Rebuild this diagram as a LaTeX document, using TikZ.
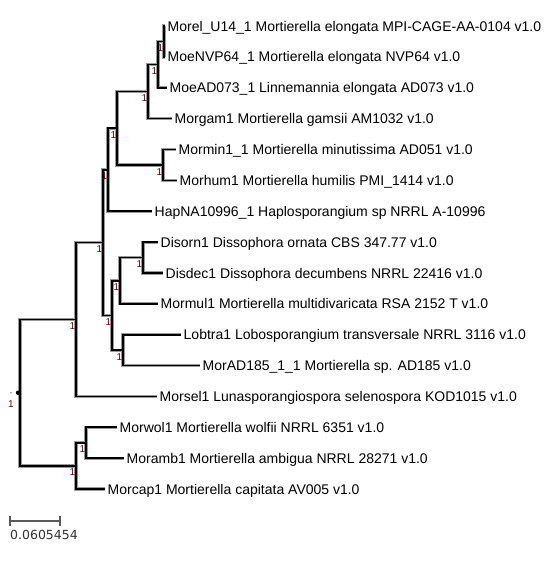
\documentclass[tikz,border=0pt]{standalone}
\usepackage{fontspec}
\setmainfont{Liberation Sans}
\newfontfamily\scalefont{DejaVu Sans}
\definecolor{bsred}{RGB}{128,0,0}
\begin{document}
\begin{tikzpicture}[x=1pt,y=-1pt,
  halo/.style={draw=black!40, line width=3.2pt},
  edge/.style={draw=black, line width=1.7pt},
  leaf/.style={anchor=base west, inner sep=0pt, xshift=2.5pt, yshift=-5pt, font=\fontsize{14}{16}\selectfont},
  bs/.style={anchor=north east, inner sep=0pt, text=bsred, xshift=-0.5pt, yshift=-3pt, font=\fontsize{10}{12}\selectfont},
  scalebar/.style={draw=black!65, line width=1.6pt}]
\useasboundingbox (0,0) rectangle (555,566);
\fill[white] (0,0) rectangle (555,566);
% leaf tips
\coordinate (L0) at (165,26);
\coordinate (L1) at (165,56.9);
\coordinate (L2) at (167,87.7);
\coordinate (L3) at (172,118.6);
\coordinate (L4) at (176,149.5);
\coordinate (L5) at (177,180.4);
\coordinate (L6) at (152,211.2);
\coordinate (L7) at (158,242.1);
\coordinate (L8) at (163,273);
\coordinate (L9) at (158,303.8);
\coordinate (L10) at (181,334.7);
\coordinate (L11) at (200,365.6);
\coordinate (L12) at (157,396.4);
\coordinate (L13) at (117,427.3);
\coordinate (L14) at (124,458.1);
\coordinate (L15) at (105,489);
% internal nodes
\coordinate (N1) at (164,41.4);
\coordinate (N2) at (158,64.6);
\coordinate (N3) at (148,91.6);
\coordinate (N5) at (163,165);
\coordinate (N4) at (117,128.3);
\coordinate (N6) at (108,169.8);
\coordinate (N10) at (143,257.5);
\coordinate (N9) at (120,280.7);
\coordinate (N11) at (123,350.1);
\coordinate (N8) at (112,315.4);
\coordinate (N7) at (103,242.6);
\coordinate (Nin) at (76,319.5);
\coordinate (N13) at (86,442.7);
\coordinate (N12) at (76,465.9);
\coordinate (R) at (20,392.7);
% branches
\foreach \a/\b in {R/Nin,R/N12,Nin/N7,Nin/L12,N7/N6,N7/N8,N6/N4,N6/L6,N4/N3,N4/N5,N3/N2,N3/L3,N2/N1,N2/L2,N1/L0,N1/L1,N5/L4,N5/L5,N8/N9,N8/N11,N9/N10,N9/L9,N10/L7,N10/L8,N11/L10,N11/L11,N12/N13,N12/L15,N13/L13,N13/L14}
  \draw[halo] (\a) |- (\b);
\foreach \a/\b in {R/Nin,R/N12,Nin/N7,Nin/L12,N7/N6,N7/N8,N6/N4,N6/L6,N4/N3,N4/N5,N3/N2,N3/L3,N2/N1,N2/L2,N1/L0,N1/L1,N5/L4,N5/L5,N8/N9,N8/N11,N9/N10,N9/L9,N10/L7,N10/L8,N11/L10,N11/L11,N12/N13,N12/L15,N13/L13,N13/L14}
  \draw[edge] (\a) |- (\b);
% root marks
\fill[black] (18,392.7) circle (2.2);
\fill[black!45] (11,392.7) circle (0.9);
% leaf labels
\node[leaf] (t0) at (L0) {Morel\_U14\_1 Mortierella elongata MPI-CAGE-AA-0104 v1.0};
\node[leaf] (t1) at (L1) {MoeNVP64\_1 Mortierella elongata NVP64 v1.0};
\node[leaf] (t2) at (L2) {MoeAD073\_1 Linnemannia elongata AD073 v1.0};
\node[leaf] (t3) at (L3) {Morgam1 Mortierella gamsii AM1032 v1.0};
\node[leaf] (t4) at (L4) {Mormin1\_1 Mortierella minutissima AD051 v1.0};
\node[leaf] (t5) at (L5) {Morhum1 Mortierella humilis PMI\_1414 v1.0};
\node[leaf] (t6) at (L6) {HapNA10996\_1 Haplosporangium sp NRRL A-10996};
\node[leaf] (t7) at (L7) {Disorn1 Dissophora ornata CBS 347.77 v1.0};
\node[leaf] (t8) at (L8) {Disdec1 Dissophora decumbens NRRL 22416 v1.0};
\node[leaf] (t9) at (L9) {Mormul1 Mortierella multidivaricata RSA 2152 T v1.0};
\node[leaf] (t10) at (L10) {Lobtra1 Lobosporangium transversale NRRL 3116 v1.0};
\node[leaf] (t11) at (L11) {MorAD185\_1\_1 Mortierella sp. AD185 v1.0};
\node[leaf] (t12) at (L12) {Morsel1 Lunasporangiospora selenospora KOD1015 v1.0};
\node[leaf] (t13) at (L13) {Morwol1 Mortierella wolfii NRRL 6351 v1.0};
\node[leaf] (t14) at (L14) {Moramb1 Mortierella ambigua NRRL 28271 v1.0};
\node[leaf] (t15) at (L15) {Morcap1 Mortierella capitata AV005 v1.0};
% support values
\foreach \n in {N1,N2,N3,N4,N5,N6,N7,N8,N9,N10,N11,Nin,N12,N13}
  \node[bs] (b\n) at (\n) {1};
\node[bs, xshift=-5.5pt, yshift=-4.5pt] (bR) at (R) {1};
% scale bar
\coordinate (s1) at (10,521);
\coordinate (s2) at (60,521);
\draw[scalebar] (s1) -- (s2);
\draw[scalebar] ([yshift=5pt]s1) -- ([yshift=-5pt]s1);
\draw[scalebar] ([yshift=5pt]s2) -- ([yshift=-5pt]s2);
\node[anchor=base west, inner sep=0pt, text=black!80, font=\scalefont\fontsize{12.5}{14}\selectfont] (scaletext) at (10,539.5) {0.0605454};
\end{tikzpicture}
\end{document}
